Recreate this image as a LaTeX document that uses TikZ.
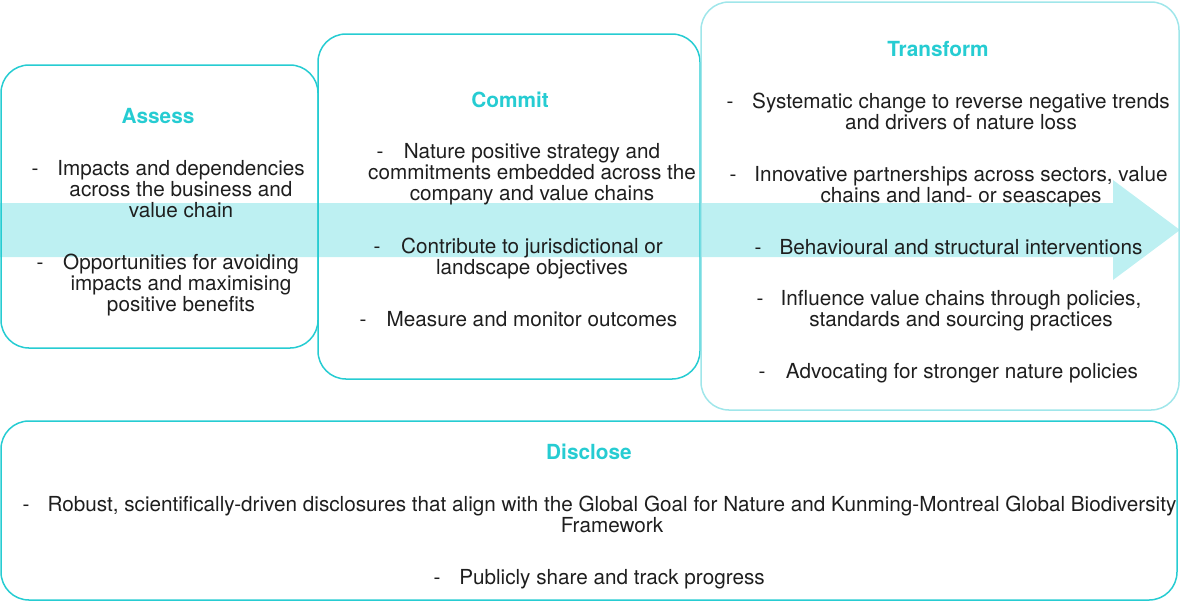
\documentclass[tikz,border=0pt]{standalone}
\usepackage{fontspec}
\setmainfont{TeX Gyre Heros}
\definecolor{tealline}{RGB}{38,204,210}
\definecolor{tealpale}{RGB}{160,230,234}
\definecolor{flowfill}{RGB}{189,240,242}
\definecolor{ink}{RGB}{30,30,30}
\tikzstyle{panel} = [draw=tealline, line width=0.75pt, rounded corners=14pt]
\tikzstyle{flow} = [fill=flowfill, draw=none]
\tikzstyle{heading} = [inner sep=0pt, anchor=base, text=tealline, font=\fontsize{10.4}{10.5}\selectfont\bfseries]
\tikzstyle{item} = [inner sep=0pt, anchor=north, align=center, text=ink, font=\fontsize{10.35}{10.5}\selectfont]
\tikzstyle{bullet} = [inner sep=0pt, anchor=base, text=ink, font=\fontsize{10.35}{10.5}\selectfont]

\begin{document}
\begin{tikzpicture}[x=0.5pt, y=-0.5pt]
\useasboundingbox (0,0) rectangle (1180,602);

% big arrow behind the panels
\fill [flow] (0,203) -- (1113,203) -- (1113,180) -- (1180,230) -- (1113,280) -- (1113,257) -- (0,257) -- cycle;

\draw [panel] (1,65) rectangle (318,348);
\draw [panel] (318,34) rectangle (700,379);
\draw [panel, draw=tealpale] (701,2) rectangle (1179,410);
\draw [panel] (1,421) rectangle (1177,600);

% Assess
\node (assess) [heading] at (158,123) {Assess};
\node (a1) [item] at (181,160) {Impacts and dependencies\\across the business and\\value chain};
\node (a1d) [bullet] at (35,175) {-};
\node (a2) [item] at (181,254) {Opportunities for avoiding\\impacts and maximising\\positive benefits};
\node (a2d) [bullet] at (40,269) {-};

% Commit
\node (commit) [heading] at (510,107) {Commit};
\node (c1) [item] at (532,143) {Nature positive strategy and\\commitments embedded across the\\company and value chains};
\node (c1d) [bullet] at (380,158) {-};
\node (c2) [item] at (532,238) {Contribute to jurisdictional or\\landscape objectives};
\node (c2d) [bullet] at (377,253) {-};
\node (c3) [item] at (532,311) {Measure and monitor outcomes};
\node (c3d) [bullet] at (363,326) {-};

% Transform
\node (transform) [heading] at (938,56) {Transform};
\node (t1) [item] at (961,93) {Systematic change to reverse negative trends\\and drivers of nature loss};
\node (t1d) [bullet] at (730,108) {-};
\node (t2) [item] at (961,166) {Innovative partnerships across sectors, value\\chains and land- or seascapes};
\node (t2d) [bullet] at (733,181) {-};
\node (t3) [item] at (961,239) {Behavioural and structural interventions};
\node (t3d) [bullet] at (758,254) {-};
\node (t4) [item] at (961,290) {Influence value chains through policies,\\standards and sourcing practices};
\node (t4d) [bullet] at (760,305) {-};
\node (t5) [item] at (962,363) {Advocating for stronger nature policies};
\node (t5d) [bullet] at (762,378) {-};

% Disclose
\node (disclose) [heading] at (589,459) {Disclose};
\node (d1) [item] at (612,496) {Robust, scientifically-driven disclosures that align with the Global Goal for Nature and Kunming-Montreal Global Biodiversity\\Framework};
\node (d1d) [bullet] at (26,511) {-};
\node (d2) [item] at (612,569) {Publicly share and track progress};
\node (d2d) [bullet] at (437,584) {-};

\end{tikzpicture}
\end{document}
